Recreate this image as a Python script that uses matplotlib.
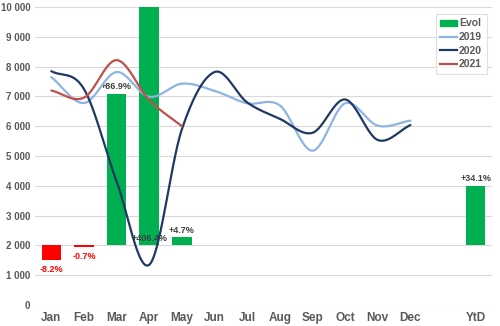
import numpy as np
import matplotlib
matplotlib.use("Agg")
import matplotlib.pyplot as plt
from matplotlib.patches import Patch
from matplotlib.lines import Line2D

plt.rcParams["font.family"] = ["Liberation Sans", "DejaVu Sans"]

months = ["Jan", "Feb", "Mar", "Apr", "May", "Jun", "Jul", "Aug", "Sep", "Oct", "Nov", "Dec"]
bar_labels = ["Jan", "Feb", "Mar", "Apr", "May", "YtD"]
evol_pct = [-8.2, -0.7, 86.9, 406.4, 4.7, 34.1]

v2019 = [7650, 6780, 7820, 6990, 7430, 7190, 6770, 6700, 5180, 6770, 6020, 6190]
v2020 = [7850, 7250, 4150, 1350, 5900, 7820, 6800, 6250, 5780, 6900, 5540, 6040]
v2021 = [7200, 6960, 8220, 6880, 6000]


def smooth(y, n=30):
    """Catmull-Rom curve through the points, like a spreadsheet's smoothed line."""
    y = np.asarray(y, float)
    x = np.arange(len(y), dtype=float)
    px = np.concatenate([[2 * x[0] - x[1]], x, [2 * x[-1] - x[-2]]])
    py = np.concatenate([[2 * y[0] - y[1]], y, [2 * y[-1] - y[-2]]])
    xs, ys = [], []
    t = np.linspace(0, 1, n)
    for i in range(1, len(px) - 2):
        for p, out in ((px, xs), (py, ys)):
            p0, p1, p2, p3 = p[i - 1], p[i], p[i + 1], p[i + 2]
            c1 = p1 + (p2 - p0) / 6
            c2 = p2 - (p3 - p1) / 6
            out.append((1 - t) ** 3 * p1 + 3 * (1 - t) ** 2 * t * c1
                       + 3 * (1 - t) * t ** 2 * c2 + t ** 3 * p2)
    return np.concatenate(xs), np.concatenate(ys)


fig = plt.figure(figsize=(5.0, 3.26), dpi=100)
ax = fig.add_axes([0.07, 0.0644, 0.914, 0.914])
ax2 = ax.twinx()

grey = "#595959"
ax.set_ylim(0, 10000)
ax.set_xlim(-0.5, 13.5)
ax.set_yticks(range(0, 10001, 1000))
ax.set_yticklabels([f"{v:,}".replace(",", " ") for v in range(0, 10001, 1000)])
ax.yaxis.grid(True, color="#D9D9D9", linewidth=0.8)
ax.set_axisbelow(True)
xt = list(range(12)) + [13]
ax.set_xticks(xt)
ax.set_xticklabels(months + ["YtD"])
ax.tick_params(length=0, colors=grey, labelsize=7)
ax.tick_params(axis="x", labelsize=8.5, pad=5)
for lab in ax.get_xticklabels() + ax.get_yticklabels():
    lab.set_fontweight("bold")
for s in ax.spines.values():
    s.set_visible(False)

# evolution bars on a hidden secondary axis, 0 % sitting at 2 000
ax2.set_ylim(-34.2, 136.8)
ax2.set_yticks([])
for s in ax2.spines.values():
    s.set_visible(False)
bar_x = [0, 1, 2, 3, 4, 13]
bar_colors = ["#FF0000" if v < 0 else "#00B050" for v in evol_pct]
ax2.bar(bar_x, evol_pct, width=0.6, color=bar_colors, zorder=1)
for x, v in zip(bar_x, evol_pct):
    txt = f"{v:+.1f}%"
    if v < 0:
        ax2.text(x, v - 3, txt, ha="center", va="top", fontsize=6.5,
                 color="#FF0000", fontweight="bold")
    elif v > 136.8:
        ax2.text(x, 4, txt, ha="center", va="center", fontsize=6.5,
                 color="#404040", fontweight="bold")
    else:
        ax2.text(x, v + 1.5, txt, ha="center", va="bottom", fontsize=6.5,
                 color="#404040", fontweight="bold")

for vals, col in ((v2019, "#8DB4E2"), (v2020, "#1F3864"), (v2021, "#C0504D")):
    sx, sy = smooth(vals)
    ax2.plot(sx, (sy - 2000) / 58.5, color=col, linewidth=1.6,
             solid_capstyle="round", zorder=3)

handles = [Patch(color="#00B050", label="Evol"),
           Line2D([], [], color="#8DB4E2", lw=1.6, label="2019"),
           Line2D([], [], color="#1F3864", lw=1.6, label="2020"),
           Line2D([], [], color="#C0504D", lw=1.6, label="2021")]
leg = ax2.legend(handles=handles, loc="upper right", bbox_to_anchor=(1.0, 0.995),
                 fontsize=7.5, frameon=True, fancybox=False, handlelength=1.6,
                 handleheight=0.5, handletextpad=0.2, borderpad=0.45,
                 labelspacing=0.35)
leg.get_frame().set_edgecolor("#D9D9D9")
leg.get_frame().set_linewidth(0.8)
for t in leg.get_texts():
    t.set_color(grey)
    t.set_fontweight("bold")

fig.savefig("out.png", dpi=100)
